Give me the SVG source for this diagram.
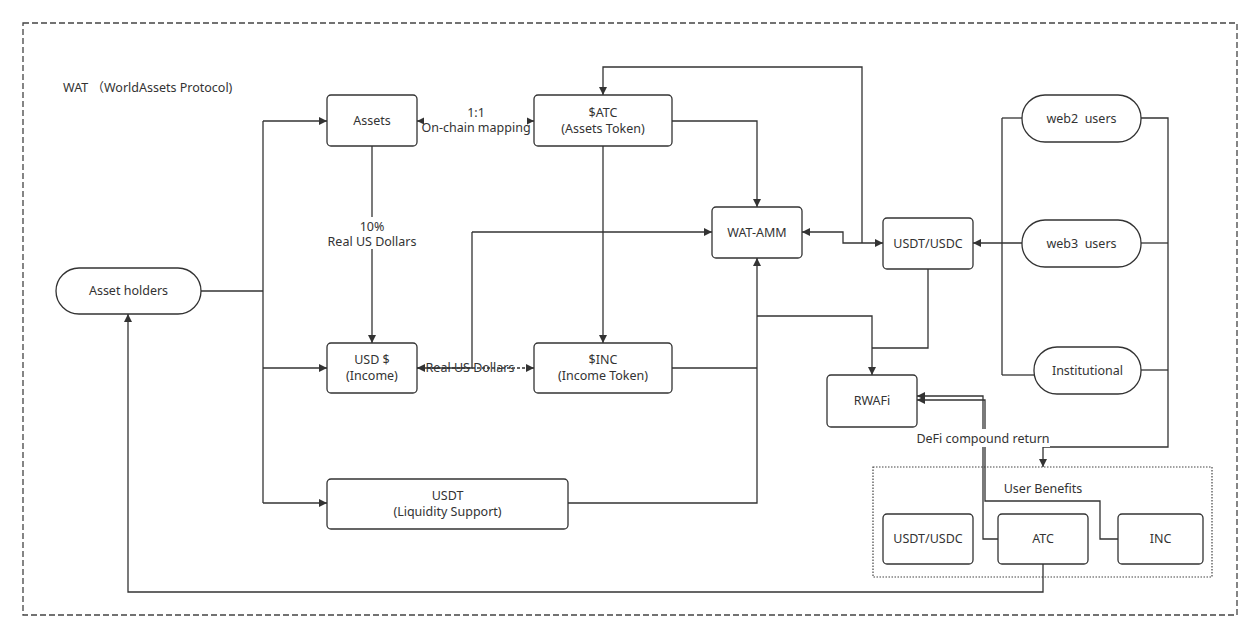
<svg xmlns="http://www.w3.org/2000/svg" width="1260" height="639" viewBox="0 0 1260 639">
<defs>
<marker id="arr" viewBox="0 0 10 10" refX="10" refY="5" markerWidth="10" markerHeight="8" orient="auto-start-reverse" markerUnits="userSpaceOnUse">
<path d="M0,0 L10,5 L0,10 z" fill="#333"/>
</marker>
<style>
.box{fill:#fff;stroke:#333;stroke-width:1.3}
.t{font-family:"Noto Sans","Open Sans","Liberation Sans",sans-serif;font-size:12.5px;fill:#333;text-anchor:middle}
.c{fill:none;stroke:#333;stroke-width:1.3}
.ae{marker-end:url(#arr)}
.ab{marker-start:url(#arr);marker-end:url(#arr)}
.bg{fill:#fff}
</style>
</defs>
<rect width="1260" height="639" fill="#fff"/>
<rect x="23" y="23" width="1214" height="592" fill="none" stroke="#444" stroke-width="1.3" stroke-dasharray="6,3"/>
<text x="63" y="92" class="t" style="text-anchor:start;font-family:'Noto Sans','Noto Sans CJK SC',sans-serif">WAT （WorldAssets Protocol)</text>
<rect x="873" y="467" width="339" height="110" fill="none" stroke="#444" stroke-width="1.2" stroke-dasharray="1.5,1.5"/>

<g id="connectors">
<path class="c" d="M201,291 H263"/>
<path class="c" d="M263,121 V503"/>
<path class="c ae" d="M263,121 H327"/>
<path class="c ae" d="M263,368 H327"/>
<path class="c ae" d="M263,503 H327"/>
<path class="c ab" d="M417,121 H534"/>
<rect class="bg" x="424" y="101" width="103" height="32"/>
<text class="t" x="476" y="117">1:1</text>
<text class="t" x="476" y="132">On-chain mapping</text>
<path class="c ae" d="M372,146 V343"/>
<rect class="bg" x="325" y="217" width="94" height="32"/>
<text class="t" x="372" y="231">10%</text>
<text class="t" x="372" y="246">Real US Dollars</text>
<path class="c ab" d="M417,368 H534" stroke-dasharray="3,2"/>
<path class="c" d="M417,368 H472 V232"/>
<path class="c ae" d="M472,232 H712"/>
<text class="t" x="470" y="372">Real US Dollars</text>
<path class="c ae" d="M603,146 V343"/>
<path class="c ae" d="M672,121 H757 V207"/>
<path class="c" d="M672,368 H757"/>
<path class="c ae" d="M568,503 H757 V258"/>
<path class="c ae" d="M757,316 H872 V375"/>
<path class="c" d="M928,269 V348 H872"/>
<path class="c ab" d="M802,232 H843 V243 H883"/>
<path class="c ae" d="M862,243 V67 H603 V95"/>
<path class="c" d="M1002,118 V375"/>
<path class="c" d="M1022,118 H1002"/>
<path class="c" d="M1034,375 H1002"/>
<path class="c ae" d="M1022,243 H973"/>
<path class="c ae" d="M1141,118 H1168 V447 H1043 V467"/>
<path class="c" d="M1141,243 H1168"/>
<path class="c" d="M1141,370 H1168"/>
<path class="c ae" d="M998,539 H983 V396 H917"/>
<path class="c ae" d="M1118,539 H1100 V501 H985 V400 H917"/>
<rect class="bg" x="916" y="429" width="134" height="18"/>
<text class="t" x="983" y="443">DeFi compound return</text>
<text class="t" x="1043" y="493">User Benefits</text>
<path class="c ae" d="M1043,564 V592 H128 V314"/>
</g>

<g id="asset-holders"><rect class="box" x="56" y="268" width="145" height="46" rx="23"/><text class="t" x="128.5" y="295">Asset holders</text></g>
<g id="assets"><rect class="box" x="327" y="95" width="90" height="51" rx="4"/><text class="t" x="372" y="125">Assets</text></g>
<g id="atc"><rect class="box" x="534" y="95" width="138" height="51" rx="4"/><text class="t" x="603" y="117">$ATC</text><text class="t" x="603" y="133">(Assets Token)</text></g>
<g id="usd"><rect class="box" x="327" y="343" width="90" height="50" rx="4"/><text class="t" x="372" y="364">USD $</text><text class="t" x="372" y="380">(Income)</text></g>
<g id="inc"><rect class="box" x="534" y="343" width="138" height="50" rx="4"/><text class="t" x="603" y="364">$INC</text><text class="t" x="603" y="380">(Income Token)</text></g>
<g id="usdt-liquidity"><rect class="box" x="327" y="479" width="241" height="50" rx="4"/><text class="t" x="447.5" y="500">USDT</text><text class="t" x="447.5" y="516">(Liquidity Support)</text></g>
<g id="wat-amm"><rect class="box" x="712" y="207" width="90" height="51" rx="4"/><text class="t" x="757" y="237">WAT-AMM</text></g>
<g id="usdt-usdc"><rect class="box" x="883" y="218" width="90" height="51" rx="4"/><text class="t" x="928" y="248">USDT/USDC</text></g>
<g id="rwafi"><rect class="box" x="827" y="375" width="90" height="52" rx="4"/><text class="t" x="872" y="405">RWAFi</text></g>
<g id="web2"><rect class="box" x="1022" y="95" width="119" height="47" rx="23"/><text class="t" x="1081.5" y="123" xml:space="preserve">web2  users</text></g>
<g id="web3"><rect class="box" x="1022" y="220" width="119" height="47" rx="23"/><text class="t" x="1081.5" y="248" xml:space="preserve">web3  users</text></g>
<g id="institutional"><rect class="box" x="1034" y="347" width="107" height="47" rx="23"/><text class="t" x="1087.5" y="375">Institutional</text></g>
<g id="b-usdt-usdc"><rect class="box" x="883" y="514" width="90" height="50" rx="4"/><text class="t" x="928" y="543">USDT/USDC</text></g>
<g id="b-atc"><rect class="box" x="998" y="514" width="90" height="50" rx="4"/><text class="t" x="1043" y="543">ATC</text></g>
<g id="b-inc"><rect class="box" x="1118" y="514" width="85" height="50" rx="4"/><text class="t" x="1160.5" y="543">INC</text></g>
</svg>
